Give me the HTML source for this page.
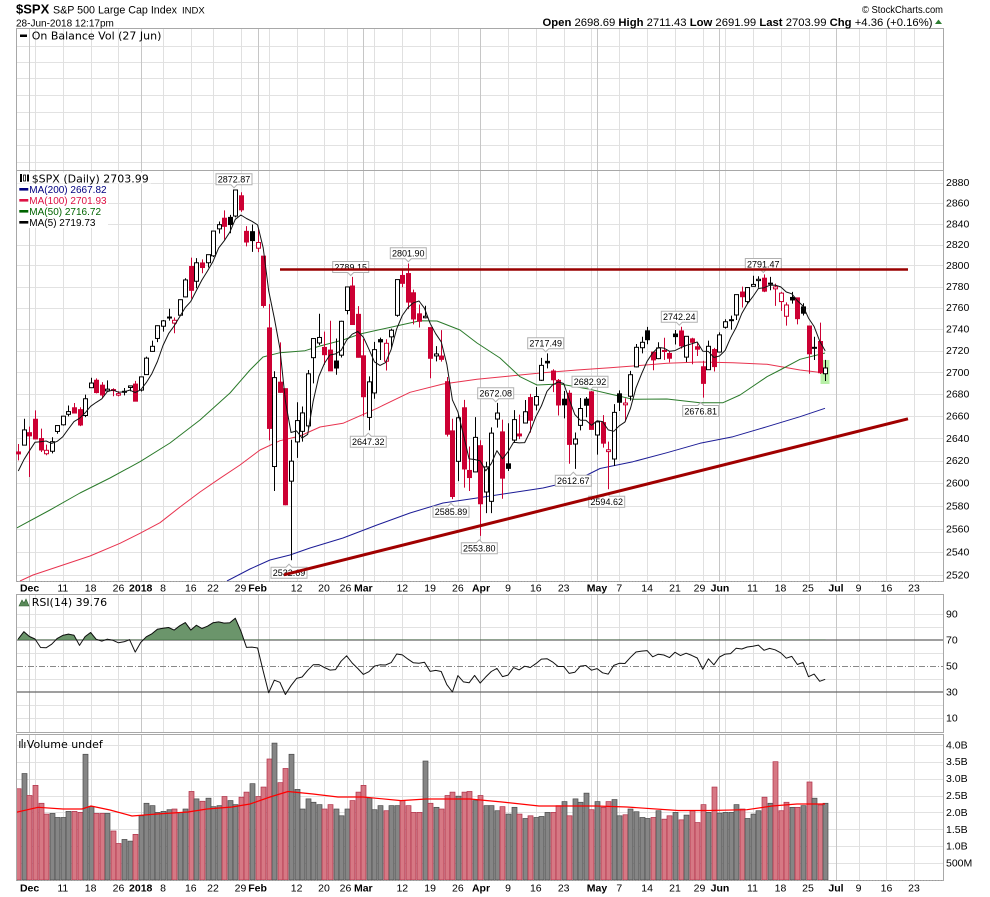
<!DOCTYPE html>
<html><head><meta charset="utf-8">
<style>
html,body{margin:0;padding:0;background:#fff;}
svg{display:block;}
.ax{font-family:"Liberation Sans",Arial,sans-serif;font-size:10.5px;fill:#000;}
.axb{font-family:"Liberation Sans",Arial,sans-serif;font-size:10.5px;font-weight:bold;fill:#000;}
.lg{font-family:"DejaVu Sans",Verdana,sans-serif;font-size:11px;fill:#000;}
.ma{font-family:"Liberation Sans",Arial,sans-serif;font-size:10px;}
.ann{font-family:"Liberation Sans",Arial,sans-serif;font-size:9px;fill:#000;}
.hd{font-family:"Liberation Sans",Arial,sans-serif;fill:#000;}
</style></head><body>
<svg id="s" width="990" height="897" viewBox="0 0 990 897" xmlns="http://www.w3.org/2000/svg">
<rect x="0" y="0" width="990" height="897" fill="#fff"/>
<g id="grid" shape-rendering="crispEdges"></g>
<g id="frame" shape-rendering="crispEdges" fill="none" stroke="#a8a8a8">
  <rect x="16.5" y="28.5" width="927" height="142"/>
  <rect x="16.5" y="170.5" width="927" height="411"/>
  <rect x="16.5" y="594.5" width="927" height="138"/>
  <rect x="16.5" y="734.5" width="927" height="146"/>
</g>
<defs>
  <clipPath id="cp"><rect x="17" y="171" width="926" height="410"/></clipPath>
  <clipPath id="cr"><rect x="17" y="595" width="926" height="45"/></clipPath>
  <clipPath id="cv"><rect x="17" y="735" width="926" height="145"/></clipPath>
</defs>
<rect x="820.5" y="360" width="9" height="24" fill="#b9f0a8"/>
<g id="mas" clip-path="url(#cp)" fill="none" stroke-width="1"></g>
<g id="candles"></g>
<g id="ma5" clip-path="url(#cp)"></g>

<!-- annotations -->
<g id="anns" fill="#fff" stroke="#b0b0b0" stroke-width="1"></g>
<g>
<text class="ann" x="234" y="182.6" text-anchor="middle">2872.87</text>
<text class="ann" x="350.7" y="270.3" text-anchor="middle">2789.15</text>
<text class="ann" x="408.3" y="256.6" text-anchor="middle">2801.90</text>
<text class="ann" x="495.7" y="396.6" text-anchor="middle">2672.08</text>
<text class="ann" x="545.7" y="346.6" text-anchor="middle">2717.49</text>
<text class="ann" x="590" y="385" text-anchor="middle">2682.92</text>
<text class="ann" x="679.3" y="320" text-anchor="middle">2742.24</text>
<text class="ann" x="763.3" y="267.3" text-anchor="middle">2791.47</text>
<text class="ann" x="289" y="576" text-anchor="middle">2532.69</text>
<text class="ann" x="368.3" y="445" text-anchor="middle">2647.32</text>
<text class="ann" x="451" y="515" text-anchor="middle">2585.89</text>
<text class="ann" x="479.3" y="551.6" text-anchor="middle">2553.80</text>
<text class="ann" x="573.3" y="484" text-anchor="middle">2612.67</text>
<text class="ann" x="606.7" y="505" text-anchor="middle">2594.62</text>
<text class="ann" x="700.7" y="414.3" text-anchor="middle">2676.81</text>
</g>

<!-- trend lines -->
<line x1="280" y1="269.5" x2="908" y2="269.5" stroke="#990000" stroke-width="2.5"/>
<line x1="284" y1="574.8" x2="908" y2="418.8" stroke="#a00000" stroke-width="3"/>

<!-- header -->
<text class="hd" x="16" y="13.5" font-size="13" font-weight="bold">$SPX</text>
<text class="hd" x="53" y="13.5" font-size="10.7" textLength="124" lengthAdjust="spacingAndGlyphs">S&amp;P 500 Large Cap Index</text>
<text class="hd" x="182" y="13.5" font-size="9.5">INDX</text>
<text class="hd" x="16" y="26.5" font-size="10">28-Jun-2018 12:17pm</text>
<text class="hd" x="943" y="13" font-size="10" fill="#444" text-anchor="end" textLength="81" lengthAdjust="spacingAndGlyphs">© StockCharts.com</text>
<text class="hd" x="932.5" y="26" font-size="11" text-anchor="end" textLength="390" lengthAdjust="spacingAndGlyphs"><tspan font-weight="bold">Open</tspan> 2698.69  <tspan font-weight="bold">High</tspan> 2711.43  <tspan font-weight="bold">Low</tspan> 2691.99  <tspan font-weight="bold">Last</tspan> 2703.99  <tspan font-weight="bold">Chg</tspan> +4.36 (+0.16%)</text>
<polygon points="935,24 942,24 938.5,19.5" fill="#2e7d32"/>

<!-- OBV legend -->
<rect x="20" y="34.5" width="7" height="2.5" fill="#000"/>
<text class="lg" x="31.7" y="39.5">On Balance Vol (27 Jun)</text>

<!-- price legend -->
<rect x="17" y="172.5" width="134" height="11" fill="#fff"/>
<rect x="17" y="184" width="91" height="44" fill="#fff"/>
<rect x="20" y="174" width="2" height="8" fill="#000"/><rect x="23.5" y="175" width="2" height="6" fill="#fff" stroke="#000" stroke-width="0.8"/><rect x="27" y="174.5" width="2" height="7" fill="#000"/>
<text class="lg" x="31.7" y="182.3">$SPX (Daily) 2703.99</text>
<rect x="19.3" y="188" width="9" height="2.6" fill="#000080"/>
<text class="ma" x="29.3" y="192.8" fill="#000080">MA(200) 2667.82</text>
<rect x="19.3" y="199" width="9" height="2.6" fill="#dd1144"/>
<text class="ma" x="29.3" y="203.8" fill="#dd1144">MA(100) 2701.93</text>
<rect x="19.3" y="210" width="9" height="2.6" fill="#006400"/>
<text class="ma" x="29.3" y="214.8" fill="#006400">MA(50) 2716.72</text>
<rect x="19.3" y="221" width="9" height="2.6" fill="#000"/>
<text class="ma" x="29.3" y="225.8" fill="#000">MA(5) 2719.73</text>

<!-- price axis labels -->
<g class="ax">
<text x="946" y="186.2">2880</text><text x="946" y="206.7">2860</text><text x="946" y="227.3">2840</text><text x="946" y="248.1">2820</text>
<text x="946" y="269">2800</text><text x="946" y="290">2780</text><text x="946" y="311.2">2760</text><text x="946" y="332.6">2740</text>
<text x="946" y="354.1">2720</text><text x="946" y="375.8">2700</text><text x="946" y="397.7">2680</text><text x="946" y="419.7">2660</text>
<text x="946" y="441.8">2640</text><text x="946" y="464.2">2620</text><text x="946" y="486.7">2600</text><text x="946" y="509.4">2580</text>
<text x="946" y="532.3">2560</text><text x="946" y="555.3">2540</text><text x="946" y="578.5">2520</text>
</g>

<!-- date axis (middle) -->
<g text-anchor="middle">
<text class="axb" x="29.6" y="591.5">Dec</text><text class="ax" x="62.8" y="591.5">11</text><text class="ax" x="90.6" y="591.5">18</text><text class="ax" x="118.5" y="591.5">26</text>
<text class="axb" x="140.7" y="591.5">2018</text><text class="ax" x="163" y="591.5">8</text><text class="ax" x="190.8" y="591.5">16</text><text class="ax" x="213" y="591.5">22</text><text class="ax" x="240.5" y="591.5">29</text>
<text class="axb" x="257.6" y="591.5">Feb</text><text class="ax" x="296.6" y="591.5">12</text><text class="ax" x="324" y="591.5">20</text><text class="ax" x="345.5" y="591.5">26</text>
<text class="axb" x="363.3" y="591.5">Mar</text><text class="ax" x="402.3" y="591.5">12</text><text class="ax" x="430.1" y="591.5">19</text><text class="ax" x="457.9" y="591.5">26</text>
<text class="axb" x="481" y="591.5">Apr</text><text class="ax" x="508" y="591.5">9</text><text class="ax" x="535.8" y="591.5">16</text><text class="ax" x="563.7" y="591.5">23</text>
<text class="axb" x="597" y="591.5">May</text><text class="ax" x="619.3" y="591.5">7</text><text class="ax" x="647.1" y="591.5">14</text><text class="ax" x="675" y="591.5">21</text><text class="ax" x="699.5" y="591.5">29</text>
<text class="axb" x="720" y="591.5">Jun</text><text class="ax" x="752.5" y="591.5">11</text><text class="ax" x="780.5" y="591.5">18</text><text class="ax" x="808" y="591.5">25</text>
<text class="axb" x="836" y="591.5">Jul</text><text class="ax" x="858.5" y="591.5">9</text><text class="ax" x="886.5" y="591.5">16</text><text class="ax" x="914" y="591.5">23</text>
</g>

<!-- RSI -->
<g id="rsi"></g>
<polygon points="19,606 22,600 24,603 26,599 29,606" fill="#5a8a5a" stroke="#2e5e2e" stroke-width="0.6"/>
<text class="lg" x="31.7" y="606">RSI(14) 39.76</text>
<g class="ax">
<text x="946" y="617.5">90</text><text x="946" y="643.5">70</text><text x="946" y="669.5">50</text><text x="946" y="695.5">30</text><text x="946" y="721.5">10</text>
</g>

<!-- Volume -->
<g id="vol" clip-path="url(#cv)"></g>
<rect x="19" y="741" width="1.5" height="7" fill="#555"/><rect x="21.5" y="739" width="1.5" height="9" fill="#555"/><rect x="24" y="742" width="1.5" height="6" fill="#555"/>
<text class="lg" x="26.8" y="748">Volume undef</text>
<g class="ax">
<text x="946" y="748.3">4.0B</text><text x="946" y="765.2">3.5B</text><text x="946" y="782.1">3.0B</text><text x="946" y="799">2.5B</text>
<text x="946" y="815.9">2.0B</text><text x="946" y="832.8">1.5B</text><text x="946" y="849.7">1.0B</text><text x="946" y="866.6">500M</text>
</g>

<!-- date axis (bottom) -->
<g text-anchor="middle">
<text class="axb" x="29.6" y="891.5">Dec</text><text class="ax" x="62.8" y="891.5">11</text><text class="ax" x="90.6" y="891.5">18</text><text class="ax" x="118.5" y="891.5">26</text>
<text class="axb" x="140.7" y="891.5">2018</text><text class="ax" x="163" y="891.5">8</text><text class="ax" x="190.8" y="891.5">16</text><text class="ax" x="213" y="891.5">22</text><text class="ax" x="240.5" y="891.5">29</text>
<text class="axb" x="257.6" y="891.5">Feb</text><text class="ax" x="296.6" y="891.5">12</text><text class="ax" x="324" y="891.5">20</text><text class="ax" x="345.5" y="891.5">26</text>
<text class="axb" x="363.3" y="891.5">Mar</text><text class="ax" x="402.3" y="891.5">12</text><text class="ax" x="430.1" y="891.5">19</text><text class="ax" x="457.9" y="891.5">26</text>
<text class="axb" x="481" y="891.5">Apr</text><text class="ax" x="508" y="891.5">9</text><text class="ax" x="535.8" y="891.5">16</text><text class="ax" x="563.7" y="891.5">23</text>
<text class="axb" x="597" y="891.5">May</text><text class="ax" x="619.3" y="891.5">7</text><text class="ax" x="647.1" y="891.5">14</text><text class="ax" x="675" y="891.5">21</text><text class="ax" x="699.5" y="891.5">29</text>
<text class="axb" x="720" y="891.5">Jun</text><text class="ax" x="752.5" y="891.5">11</text><text class="ax" x="780.5" y="891.5">18</text><text class="ax" x="808" y="891.5">25</text>
<text class="axb" x="836" y="891.5">Jul</text><text class="ax" x="858.5" y="891.5">9</text><text class="ax" x="886.5" y="891.5">16</text><text class="ax" x="914" y="891.5">23</text>
</g>
</svg>
<script>
(function(){
const NS='http://www.w3.org/2000/svg';
function mk(t,a,p){const e=document.createElementNS(NS,t);for(const k in a)e.setAttribute(k,a[k]);p.appendChild(e);return e;}
const $=id=>document.getElementById(id);
const X=i=>18.3+5.565*i, Y=p=>182.7+2938*Math.log(2880/p);
const Yr=v=>640+(70-v)*1.3, Yv=v=>880-33.8*v;

const D=[[2627.8,2634.9,2620.3,2626.07],[2633.9,2657.7,2633.9,2647.58],[2645.1,2650.6,2605.5,2642.22],[2657.2,2665.2,2639.3,2639.44],[2639.8,2648.7,2627.7,2629.57],[2626.2,2634.4,2624.8,2629.27],[2628.4,2641.0,2626.5,2636.98],[2646.2,2651.7,2644.1,2651.5],[2652.2,2660.3,2651.5,2659.99],[2661.7,2669.7,2659.8,2664.11],[2667.6,2671.9,2662.9,2662.85],[2665.9,2668.1,2651.0,2652.01],[2660.6,2679.6,2659.1,2675.81],[2685.9,2695.0,2685.9,2690.16],[2692.7,2694.4,2680.7,2681.47],[2688.2,2691.0,2676.1,2679.25],[2683.0,2692.6,2682.4,2684.57],[2684.2,2685.4,2678.1,2683.34],[2679.1,2682.7,2678.0,2680.50],[2682.1,2685.6,2678.9,2682.62],[2686.1,2687.7,2682.7,2687.54],[2689.2,2692.1,2673.6,2673.61],
[2683.7,2695.9,2682.4,2695.81],[2697.9,2714.4,2697.8,2713.06],[2719.3,2729.3,2719.1,2723.99],[2731.3,2743.5,2727.9,2743.15],[2742.7,2748.5,2737.6,2747.71],[2751.2,2759.1,2747.9,2751.29],[2745.6,2750.8,2736.1,2748.23],[2753.0,2767.6,2752.8,2767.56],[2770.2,2787.9,2769.6,2786.24],[2799.0,2807.5,2768.6,2776.42],[2785.0,2807.0,2778.4,2802.56],[2802.4,2805.8,2792.6,2798.03],[2802.6,2810.3,2798.1,2810.30],[2809.2,2833.0,2808.1,2832.97],[2835.1,2842.2,2830.6,2839.13],[2845.4,2853.0,2824.8,2837.54],[2846.2,2848.6,2830.9,2839.25],[2847.5,2872.87,2846.2,2872.87],[2867.2,2870.6,2851.5,2853.53],[2832.7,2837.8,2818.3,2822.43],[2832.4,2839.3,2813.0,2823.81],
[2816.5,2836.0,2812.7,2821.98],[2808.9,2808.9,2760.0,2762.13],[2741.1,2763.4,2638.2,2648.94],[2614.8,2701.0,2593.1,2695.14],[2690.95,2727.7,2681.3,2681.66],[2685.0,2685.3,2580.6,2581.00],[2601.8,2638.7,2532.69,2619.55],[2636.8,2672.6,2622.45,2656.00],[2646.3,2668.8,2637.1,2662.94],[2651.2,2702.1,2648.9,2698.63],[2713.5,2731.5,2689.8,2731.20],[2727.1,2754.4,2725.1,2732.22],[2723.0,2737.6,2706.8,2716.26],[2720.5,2747.75,2701.3,2701.33],[2710.4,2731.3,2697.8,2703.96],[2715.8,2747.8,2713.7,2747.30],[2757.4,2780.0,2753.8,2779.60],[2780.5,2789.15,2744.2,2744.28],[2753.8,2761.5,2713.5,2713.83],
[2715.2,2730.9,2659.7,2677.67],[2658.9,2696.3,2647.32,2691.25],[2681.1,2728.1,2675.8,2720.94],[2730.2,2732.1,2711.3,2728.12],[2710.2,2730.6,2701.7,2726.80],[2732.8,2740.5,2722.7,2738.97],[2752.9,2786.6,2751.5,2786.57],[2790.5,2797.0,2779.3,2783.02],[2792.3,2801.9,2758.7,2765.31],[2774.1,2777.1,2744.4,2749.48],[2754.3,2763.0,2741.5,2747.33],[2750.6,2761.9,2750.0,2752.01],[2741.4,2741.4,2694.6,2712.92],[2715.1,2724.2,2710.1,2716.94],[2715.0,2739.1,2709.8,2711.93],[2691.4,2695.7,2641.6,2643.69],[2646.7,2657.7,2585.89,2588.26],[2619.4,2661.4,2601.8,2658.55],[2667.6,2674.8,2596.1,2612.62],[2611.3,2632.7,2593.1,2605.00],[2610.0,2659.1,2609.7,2640.87],
[2633.4,2638.3,2553.8,2581.88],[2592.2,2619.1,2573.6,2614.45],[2584.0,2649.9,2573.6,2644.69],[2657.4,2672.08,2649.6,2662.84],[2645.8,2656.9,2586.3,2604.47],[2617.2,2653.6,2610.8,2613.16],[2638.4,2665.5,2635.8,2656.87],[2643.9,2661.4,2639.3,2642.19],[2653.8,2674.7,2653.8,2663.99],[2676.9,2680.3,2645.1,2656.30],[2670.1,2686.5,2665.2,2677.84],[2692.7,2713.3,2692.1,2706.39],[2710.1,2717.49,2703.6,2708.64],[2701.2,2702.8,2681.9,2693.13],[2692.6,2693.9,2660.6,2670.14],[2675.4,2682.9,2658.0,2670.29],[2680.8,2683.6,2617.3,2634.56],[2634.9,2645.3,2612.67,2639.40],[2651.7,2676.5,2647.2,2666.94],[2675.5,2677.4,2659.0,2669.91],[2682.1,2682.92,2648.0,2648.05],
[2643.0,2655.3,2625.4,2654.80],[2654.2,2660.9,2631.7,2635.67],[2628.1,2637.1,2594.62,2629.73],[2621.5,2670.9,2615.3,2663.42],[2680.3,2683.4,2664.7,2672.63],[2670.3,2676.3,2655.2,2671.92],[2678.1,2701.3,2674.1,2697.79],[2705.0,2726.1,2704.5,2723.07],[2722.7,2732.9,2717.5,2727.72],[2738.4,2742.1,2725.9,2730.13],[2718.6,2718.6,2701.9,2711.45],[2712.6,2727.8,2712.2,2722.46],[2719.7,2732.0,2711.4,2720.13],[2717.4,2719.5,2709.2,2712.97],[2735.4,2739.2,2725.7,2733.01],[2738.3,2742.24,2721.9,2724.44],[2714.0,2733.3,2709.5,2733.29],[2730.9,2732.0,2707.4,2727.76],[2723.6,2727.4,2715.0,2721.33],[2705.1,2710.7,2676.81,2689.86],[2702.4,2729.3,2702.4,2724.01],[2721.0,2722.5,2700.7,2705.27],
[2718.7,2736.9,2718.7,2734.62],[2741.7,2749.2,2740.5,2746.87],[2748.5,2752.6,2739.5,2748.80],[2753.2,2772.4,2748.5,2772.35],[2774.8,2779.9,2760.2,2770.37],[2765.8,2779.4,2763.6,2779.03],[2780.2,2790.2,2779.9,2782.00],[2785.6,2789.8,2778.8,2786.85],[2787.9,2791.47,2774.7,2775.63],[2783.2,2789.1,2776.5,2782.49],[2777.8,2782.8,2761.7,2779.66],[2765.8,2775.0,2757.1,2773.75],[2752.0,2765.1,2743.2,2762.59],[2769.7,2774.9,2763.9,2767.32],[2769.3,2769.3,2744.4,2749.76],[2760.8,2764.2,2752.7,2754.88],[2742.9,2742.9,2698.7,2717.07],[2722.9,2732.9,2711.3,2723.06],[2728.45,2746.1,2698.4,2699.63],[2698.69,2711.43,2691.99,2703.99]];

const V=[2.7,3.15,2.5,2.8,2.27,1.95,1.97,1.85,1.85,2.03,2.03,2.0,3.72,2.17,1.97,1.97,1.97,1.45,1.08,1.2,1.15,1.35,1.9,2.27,2.2,2.0,2.03,2.08,2.1,2.0,2.1,2.62,2.4,2.33,2.42,2.17,2.2,2.47,2.35,2.23,2.45,2.6,2.85,2.47,2.75,3.58,4.05,2.88,3.3,3.72,2.68,2.1,2.4,2.3,2.23,2.1,2.23,2.1,1.9,2.1,2.35,2.6,2.8,2.43,2.08,2.2,2.05,2.2,2.2,2.35,2.2,2.0,2.0,3.52,2.27,2.15,2.1,2.5,2.6,2.48,2.6,2.62,2.35,2.5,2.2,2.2,2.05,2.17,1.95,2.15,1.95,1.82,1.9,1.85,1.88,2.0,2.0,2.2,2.32,1.9,2.4,2.3,2.57,2.08,2.32,2.15,2.32,2.38,1.9,1.93,2.1,2.02,1.85,1.82,1.85,2.05,1.8,1.9,2.0,1.78,1.92,2.05,1.7,2.23,2.0,2.75,1.98,2.0,2.0,2.23,2.1,1.82,1.95,2.05,2.45,2.27,3.5,2.05,2.3,2.15,2.15,2.2,2.9,2.42,2.22,2.27];

// ---- grid ----
const G=$('grid');
const weeks=[3,8,13,18,22,26,31,35,40,45,50,55,59,64,69,74,79,83,88,93,98,103,108,113,118,123,127,132,137,142,147,151,156,161];
const months=[2,22,43,62,83,104,126,147];
const PAN=[[28,170],[170,581],[594,732],[734,880]];
function line(p,a){return mk('line',a,p);}
function H(y,col){const yy=Math.round(y)+0.5;line(G,{x1:17,x2:943,y1:yy,y2:yy,stroke:col,'stroke-width':1});}
[45.7,62.3,78.3,95,112.3,129,145,161.7].forEach(y=>H(y,'#e2e2e2'));
for(let p=2520;p<=2880;p+=20)H(Y(p),'#e2e2e2');
for(let v=10;v<=90;v+=10)if(v!==30&&v!==50&&v!==70)H(Yr(v),'#e2e2e2');
for(let v=0.5;v<=4.01;v+=0.5)H(Yv(v),'#e2e2e2');
PAN.forEach(([t,b])=>{
  weeks.forEach(i=>{const x=Math.round(X(i))+0.5;line(G,{x1:x,x2:x,y1:t,y2:b,stroke:'#e0e0e0'});});
  months.forEach(i=>{const x=Math.round(X(i))+0.5;line(G,{x1:x,x2:x,y1:t,y2:b,stroke:'#c6c6c6'});});
});
// RSI reference lines
const R=$('rsi');
line(R,{x1:17,x2:943,y1:Yr(70),y2:Yr(70),stroke:'#666','stroke-width':1.3});
line(R,{x1:17,x2:943,y1:Yr(30),y2:Yr(30),stroke:'#666','stroke-width':1.3});
line(R,{x1:17,x2:943,y1:Yr(50)+0.5,y2:Yr(50)+0.5,stroke:'#888','stroke-width':1,'stroke-dasharray':'6,2,1,2'});
// dotted axes
const F=$('frame');
[[581.5],[880.5]].forEach(([y])=>line(F,{x1:17,x2:943,y1:y,y2:y,stroke:'#999','stroke-dasharray':'1,2'}));

// ---- moving averages ----
const M=$('mas');
function poly(pts,col,w,par){mk('polyline',{points:pts.map(p=>p.join(',')).join(' '),fill:'none',stroke:col,'stroke-width':w||1,'stroke-linejoin':'round'},par);}
poly([[227,581],[250,569],[270,560],[290,555],[310,548],[343,538],[377,525],[410,513],[443,503],[477,498],[510,493],[543,488],[577,480],[600,468.5],[633,461.7],[667,452.7],[700,443.3],[733,436.7],[767,426.7],[800,416.7],[825,408.3]],'#1c1c96',1,M);
poly([[20,581],[33,575],[60,566],[90,556],[120,543.3],[140,533.3],[160,522.7],[180,507],[200,492],[220,478.3],[240,465],[260,450],[280,440.7],[300,436],[320,427],[343,423.3],[377,408.3],[410,392.3],[443,384],[477,379.3],[510,376],[543,372.7],[577,370],[610,367.7],[633,366],[667,363.3],[700,362],[733,362.7],[767,364.3],[800,370],[825,373]],'#e8334f',1,M);
poly([[16,528.3],[50,510],[80,493],[110,478],[140,461.7],[170,443],[200,420],[230,393],[250,370],[263,357],[280,352.7],[305,350.7],[320,346],[343,340],[360,334],[393,326.7],[420,320.7],[437,321],[460,330],[477,343],[500,358],[520,376.7],[537,385],[560,384],[590,389.3],[610,394],[633,399.3],[667,399],[700,402.7],[723,402.7],[740,395],[767,376.7],[780,370],[800,359.3],[825,353]],'#2a7a2a',1,M);

// ---- candles ----
const C=$('candles');
let prev=2627.04;
D.forEach((d,i)=>{
  const [o,h,l,c]=d; const col=c>=prev?'#000':'#cc0033'; prev=c;
  const Xc=Math.round(X(i));
  line(C,{x1:Xc+0.5,x2:Xc+0.5,y1:Y(h),y2:Y(l),stroke:col,'stroke-width':1});
  const yt=Y(Math.max(o,c)), yb=Y(Math.min(o,c)); let hgt=Math.max(yb-yt,1);
  if(c>o){mk('rect',{x:Xc-1.5,y:yt,width:4,height:Math.max(hgt,1),fill:'#fff',stroke:col,'stroke-width':1},C);}
  else{mk('rect',{x:Xc-2,y:yt-0.5,width:5,height:hgt+1,fill:col},C);}
});
// MA5
const pre=[2597.08,2602.42,2601.42,2627.04];
const cl=pre.concat(D.map(d=>d[3]));
const m5=[];
for(let i=0;i<D.length;i++){let s=0;for(let k=0;k<5;k++)s+=cl[i+4-k];m5.push([X(i).toFixed(1),Y(s/5).toFixed(1)]);}
poly(m5,'#111',1,$('ma5'));

// annotations boxes
const A=$('anns');
const HI=[[234,179.3],[350.7,267],[408.3,253.3],[495.7,393.3],[545.7,343.3],[590,381.7],[679.3,316.7],[763.3,264]];
const LO=[[289,572.7],[368.3,441.7],[451,511.7],[479.3,548.3],[573.3,480.7],[606.7,501.7],[700.7,411]];
HI.forEach(([x,y])=>{mk('polygon',{points:`${x-18},${y-5.5} ${x+18},${y-5.5} ${x+18},${y+5.5} ${x+3},${y+5.5} ${x},${y+8.5} ${x-3},${y+5.5} ${x-18},${y+5.5}`},A);});
LO.forEach(([x,y])=>{mk('polygon',{points:`${x-18},${y-5.5} ${x-3},${y-5.5} ${x},${y-8.5} ${x+3},${y-5.5} ${x+18},${y-5.5} ${x+18},${y+5.5} ${x-18},${y+5.5}`},A);});

// ---- RSI ----
const rp=[2575.26,2579.36,2579.85,2587.84,2591.13,2590.64,2594.38,2584.62,2582.30,2584.84,2578.87,2564.62,2585.64,2578.85,2582.14,2599.03,2597.08,2602.42,2601.42,2627.04];
const all=rp.concat(D.map(d=>d[3]));
let ag=0,al=0;
for(let k=1;k<=14;k++){const ch=all[k]-all[k-1];if(ch>0)ag+=ch;else al-=ch;}
ag/=14;al/=14;
const rsi=[];
for(let k=15;k<all.length;k++){const ch=all[k]-all[k-1];ag=(ag*13+Math.max(ch,0))/14;al=(al*13+Math.max(-ch,0))/14;if(k>=rp.length)rsi.push(100-100/(1+ag/al));}
const rpts=rsi.map((v,i)=>[X(i).toFixed(1),Yr(v).toFixed(1)]);
const fillPts=[[X(0).toFixed(1),Yr(70)]].concat(rpts).concat([[X(rsi.length-1).toFixed(1),Yr(70)]]);
mk('polygon',{points:fillPts.map(p=>p.join(',')).join(' '),fill:'#6b956b',stroke:'#3f6f3f','stroke-width':0.8,'clip-path':'url(#cr)'},R);
poly(rpts,'#111',1,R);

// ---- Volume ----
const VG=$('vol');
let pv=2627.04;
D.forEach((d,i)=>{
  const c=d[3];const up=c>=pv;pv=c;
  const Xc=Math.round(X(i));const yt=Yv(V[i]);
  mk('rect',{x:Xc-2,y:yt,width:5,height:880-yt,fill:up?'#858585':'#d67884',stroke:up?'#4a4a4a':'#b03048','stroke-width':0.7},VG);
});
poly([[16,812.4],[38,807.3],[63,809],[82,809],[91,806],[110,810],[132,816],[157,814],[188,812],[207,809],[232,807],[250,804],[270,797],[288,791.5],[313,794],[338,797],[363,797],[401,800.6],[426,799],[470,799],[502,802],[539,806],[596,806],[627,807],[678,810.5],[709,810.5],[747,809.7],[772,806],[797,804],[825,804]],'#ff0000',1.2,VG);
})();
</script>
</body></html>
